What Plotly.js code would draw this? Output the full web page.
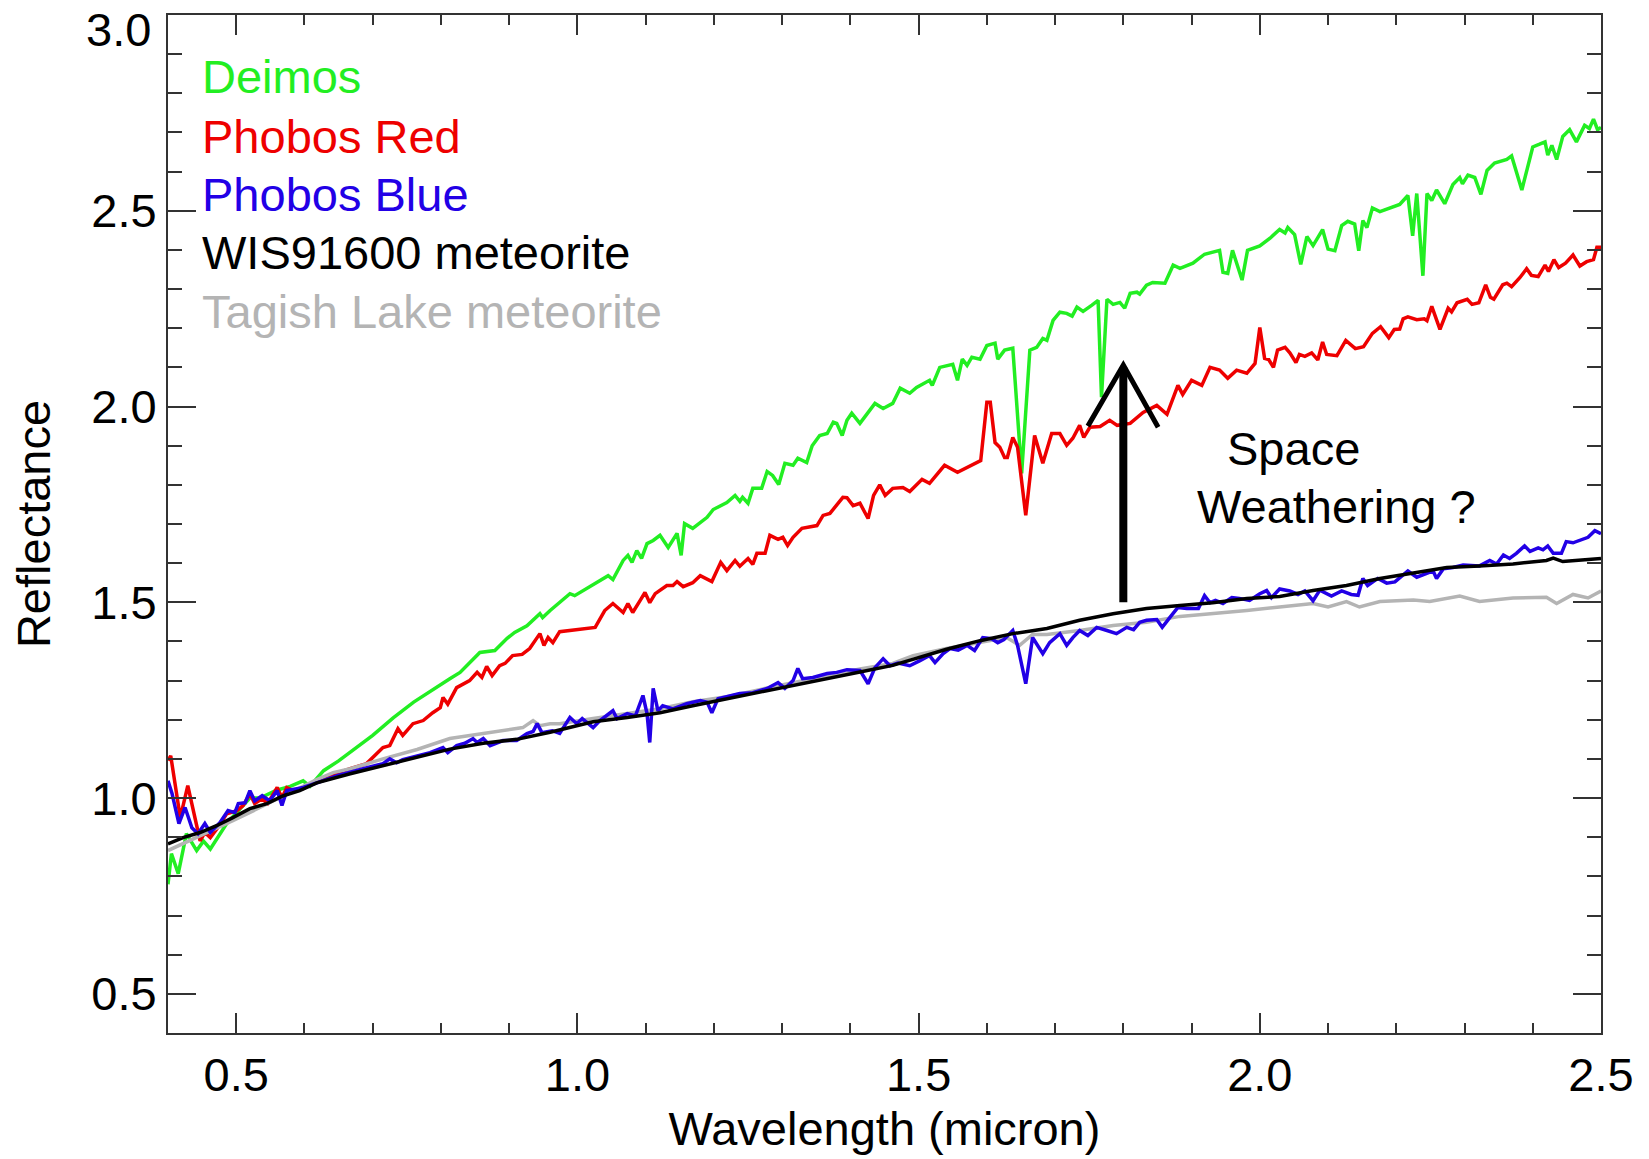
<!DOCTYPE html>
<html>
<head>
<meta charset="utf-8">
<script src="https://cdn.plot.ly/plotly-3.0.1.min.js"></script>
<style>
  html, body { margin: 0; padding: 0; background: #ffffff; }
  #chart { width: 1649px; height: 1159px; }
</style>
</head>
<body>
<div id="chart"></div>
<script>
// ---------------- data (wavelength in micron, reflectance) ----------------
const seriesNames = ["Deimos", "Phobos Red", "Phobos Blue", "WIS91600 meteorite", "Tagish Lake meteorite"];

const deimosX = [0.400,0.405,0.415,0.427,0.442,0.452,0.462,0.486,0.520,0.535,0.559,0.579,0.598,0.608,0.628,0.650,0.700,0.730,0.760,0.790,0.813,0.828,0.857,0.879,0.897,0.908,0.926,0.945,0.949,0.960,0.989,0.996,1.045,1.052,1.067,1.074,1.080,1.087,1.094,1.102,1.111,1.121,1.133,1.146,1.152,1.157,1.169,1.190,1.199,1.219,1.231,1.238,1.242,1.250,1.257,1.270,1.278,1.286,1.295,1.304,1.316,1.323,1.336,1.344,1.355,1.366,1.375,1.380,1.388,1.395,1.402,1.414,1.436,1.448,1.462,1.473,1.487,1.497,1.516,1.520,1.531,1.550,1.557,1.564,1.571,1.578,1.590,1.600,1.612,1.616,1.626,1.638,1.651,1.663,1.673,1.682,1.688,1.697,1.707,1.717,1.725,1.732,1.741,1.754,1.763,1.768,1.776,1.785,1.795,1.802,1.810,1.820,1.824,1.834,1.843,1.861,1.873,1.883,1.902,1.919,1.931,1.941,1.946,1.953,1.960,1.974,1.982,2.000,2.015,2.029,2.037,2.041,2.051,2.060,2.069,2.078,2.092,2.100,2.110,2.120,2.129,2.139,2.145,2.151,2.157,2.165,2.176,2.188,2.205,2.217,2.224,2.230,2.239,2.245,2.252,2.259,2.271,2.283,2.293,2.297,2.305,2.315,2.324,2.333,2.344,2.362,2.369,2.384,2.400,2.410,2.418,2.422,2.428,2.435,2.444,2.454,2.464,2.476,2.483,2.489,2.495,2.500];
const deimosY = [0.780,0.858,0.807,0.909,0.866,0.890,0.870,0.935,1.000,1.000,1.020,1.030,1.044,1.030,1.070,1.095,1.160,1.205,1.245,1.280,1.305,1.321,1.372,1.377,1.408,1.423,1.440,1.471,1.461,1.479,1.522,1.517,1.568,1.558,1.607,1.620,1.602,1.632,1.612,1.650,1.658,1.671,1.640,1.676,1.620,1.701,1.689,1.717,1.737,1.755,1.773,1.758,1.768,1.753,1.791,1.791,1.834,1.824,1.801,1.855,1.850,1.868,1.857,1.900,1.926,1.931,1.960,1.957,1.926,1.965,1.983,1.957,2.008,1.995,2.008,2.047,2.034,2.049,2.067,2.054,2.100,2.108,2.067,2.121,2.105,2.126,2.121,2.156,2.162,2.121,2.144,2.149,1.829,2.144,2.151,2.174,2.169,2.220,2.241,2.238,2.231,2.254,2.243,2.259,2.271,2.024,2.274,2.261,2.266,2.251,2.289,2.292,2.287,2.310,2.317,2.315,2.361,2.353,2.366,2.389,2.394,2.399,2.343,2.340,2.399,2.323,2.399,2.410,2.430,2.452,2.443,2.457,2.439,2.363,2.434,2.411,2.452,2.402,2.398,2.462,2.473,2.466,2.398,2.475,2.457,2.507,2.498,2.505,2.516,2.539,2.436,2.544,2.334,2.544,2.526,2.553,2.518,2.567,2.585,2.569,2.591,2.585,2.542,2.603,2.622,2.631,2.640,2.553,2.663,2.670,2.676,2.642,2.667,2.631,2.690,2.707,2.676,2.718,2.710,2.734,2.707,2.713];

const phobosRedX = [0.400,0.404,0.418,0.429,0.447,0.454,0.462,0.472,0.486,0.501,0.510,0.520,0.527,0.538,0.546,0.560,0.567,0.574,0.583,0.598,0.618,0.637,0.667,0.691,0.715,0.725,0.737,0.744,0.759,0.774,0.788,0.799,0.803,0.810,0.823,0.842,0.853,0.860,0.867,0.875,0.886,0.894,0.905,0.919,0.930,0.945,0.951,0.957,0.964,0.974,1.026,1.040,1.052,1.067,1.074,1.081,1.092,1.099,1.106,1.114,1.131,1.140,1.146,1.155,1.169,1.180,1.197,1.210,1.219,1.231,1.238,1.250,1.257,1.263,1.275,1.282,1.294,1.301,1.308,1.316,1.329,1.351,1.360,1.370,1.389,1.395,1.404,1.414,1.426,1.434,1.443,1.451,1.462,1.477,1.487,1.505,1.516,1.538,1.557,1.571,1.585,1.591,1.600,1.605,1.612,1.619,1.626,1.630,1.638,1.645,1.657,1.670,1.682,1.695,1.707,1.717,1.726,1.736,1.742,1.751,1.766,1.780,1.791,1.810,1.829,1.849,1.864,1.880,1.887,1.900,1.915,1.927,1.941,1.953,1.966,1.981,1.993,2.000,2.007,2.013,2.020,2.026,2.037,2.044,2.053,2.058,2.066,2.076,2.085,2.092,2.098,2.113,2.126,2.140,2.152,2.165,2.177,2.189,2.197,2.205,2.210,2.217,2.230,2.241,2.245,2.252,2.264,2.276,2.281,2.289,2.304,2.311,2.321,2.331,2.338,2.343,2.356,2.362,2.369,2.381,2.391,2.398,2.408,2.418,2.423,2.431,2.438,2.448,2.459,2.469,2.479,2.489,2.494,2.500];
const phobosRedY = [1.096,1.108,0.950,1.032,0.891,0.912,0.899,0.922,0.960,0.968,0.981,1.011,0.986,0.998,0.986,1.027,1.001,1.027,1.019,1.024,1.044,1.057,1.075,1.088,1.129,1.134,1.177,1.160,1.190,1.198,1.218,1.231,1.257,1.240,1.282,1.300,1.321,1.308,1.336,1.313,1.338,1.344,1.364,1.367,1.382,1.420,1.390,1.410,1.397,1.425,1.436,1.479,1.497,1.474,1.497,1.474,1.505,1.525,1.499,1.522,1.543,1.543,1.553,1.540,1.550,1.568,1.553,1.602,1.581,1.607,1.592,1.612,1.597,1.625,1.625,1.671,1.661,1.666,1.645,1.666,1.689,1.696,1.722,1.727,1.768,1.767,1.747,1.753,1.714,1.773,1.800,1.773,1.791,1.793,1.783,1.814,1.804,1.850,1.832,1.845,1.857,1.862,2.011,2.011,1.908,1.896,1.870,1.870,1.921,1.896,1.722,1.926,1.855,1.931,1.931,1.901,1.919,1.952,1.921,1.947,1.949,1.965,1.952,1.957,1.985,2.003,1.980,2.054,2.031,2.067,2.054,2.100,2.093,2.072,2.093,2.085,2.110,2.202,2.123,2.120,2.100,2.144,2.151,2.137,2.112,2.133,2.128,2.137,2.119,2.165,2.133,2.130,2.169,2.148,2.153,2.187,2.204,2.176,2.197,2.198,2.224,2.229,2.222,2.224,2.219,2.256,2.197,2.251,2.242,2.265,2.274,2.261,2.265,2.311,2.279,2.274,2.311,2.315,2.306,2.329,2.352,2.335,2.332,2.361,2.345,2.375,2.355,2.366,2.387,2.359,2.370,2.375,2.407,2.407];

const phobosBlueX = [0.400,0.406,0.416,0.425,0.435,0.444,0.454,0.462,0.476,0.488,0.498,0.503,0.513,0.520,0.527,0.538,0.549,0.560,0.567,0.574,0.589,0.598,0.618,0.648,0.686,0.715,0.725,0.735,0.744,0.765,0.784,0.803,0.810,0.823,0.835,0.847,0.853,0.862,0.872,0.891,0.911,0.926,0.935,0.941,0.948,0.963,0.974,0.989,0.999,1.007,1.023,1.033,1.052,1.058,1.073,1.085,1.096,1.102,1.106,1.111,1.118,1.125,1.140,1.160,1.180,1.190,1.197,1.206,1.223,1.238,1.257,1.278,1.294,1.304,1.316,1.323,1.330,1.345,1.366,1.380,1.395,1.414,1.426,1.436,1.448,1.458,1.470,1.487,1.502,1.516,1.524,1.536,1.546,1.558,1.571,1.582,1.594,1.607,1.616,1.625,1.638,1.645,1.657,1.667,1.682,1.692,1.707,1.717,1.726,1.736,1.748,1.761,1.776,1.790,1.805,1.815,1.824,1.834,1.849,1.857,1.868,1.880,1.893,1.910,1.919,1.927,1.935,1.946,1.959,1.970,1.985,2.000,2.010,2.017,2.029,2.044,2.056,2.066,2.078,2.088,2.105,2.120,2.134,2.144,2.151,2.158,2.173,2.186,2.198,2.217,2.230,2.254,2.259,2.269,2.283,2.298,2.322,2.337,2.347,2.357,2.366,2.376,2.388,2.396,2.408,2.415,2.422,2.430,2.442,2.449,2.459,2.474,2.481,2.491,2.500];
const phobosBlueY = [1.044,1.011,0.935,0.976,0.924,0.909,0.935,0.912,0.937,0.968,0.963,0.986,0.988,1.019,0.993,1.006,0.993,1.019,0.981,1.019,1.024,1.027,1.039,1.057,1.075,1.088,1.100,1.090,1.098,1.108,1.116,1.129,1.116,1.134,1.140,1.152,1.142,1.152,1.134,1.147,1.147,1.165,1.170,1.190,1.167,1.172,1.165,1.206,1.190,1.203,1.180,1.198,1.223,1.203,1.216,1.210,1.262,1.216,1.142,1.280,1.223,1.236,1.228,1.241,1.249,1.245,1.218,1.254,1.262,1.267,1.269,1.280,1.295,1.280,1.300,1.331,1.305,1.308,1.318,1.321,1.328,1.326,1.292,1.333,1.356,1.338,1.345,1.338,1.351,1.364,1.346,1.369,1.382,1.378,1.390,1.377,1.410,1.407,1.397,1.405,1.428,1.390,1.292,1.410,1.369,1.397,1.420,1.390,1.410,1.428,1.415,1.436,1.428,1.420,1.436,1.430,1.449,1.454,1.456,1.436,1.461,1.487,1.484,1.484,1.517,1.499,1.505,1.497,1.512,1.510,1.505,1.522,1.530,1.512,1.534,1.529,1.520,1.529,1.504,1.531,1.516,1.529,1.520,1.518,1.561,1.543,1.561,1.549,1.552,1.580,1.564,1.580,1.561,1.586,1.589,1.595,1.593,1.607,1.598,1.621,1.612,1.625,1.644,1.630,1.639,1.634,1.644,1.625,1.625,1.655,1.652,1.661,1.666,1.683,1.675];

const wisX = [0.400,0.422,0.447,0.472,0.495,0.520,0.545,0.569,0.593,0.600,0.618,0.667,0.715,0.765,0.813,0.862,0.911,0.960,1.023,1.073,1.121,1.169,1.219,1.267,1.316,1.366,1.414,1.462,1.492,1.541,1.590,1.638,1.688,1.736,1.785,1.834,1.883,1.931,1.981,2.029,2.078,2.127,2.176,2.225,2.274,2.322,2.371,2.420,2.430,2.444,2.469,2.500];
const wisY = [0.883,0.899,0.912,0.930,0.950,0.973,0.986,1.006,1.019,1.025,1.039,1.062,1.083,1.103,1.125,1.140,1.150,1.168,1.195,1.206,1.218,1.236,1.254,1.270,1.288,1.305,1.322,1.339,1.354,1.380,1.402,1.420,1.433,1.454,1.471,1.484,1.492,1.499,1.510,1.515,1.530,1.543,1.561,1.575,1.589,1.593,1.598,1.607,1.613,1.604,1.607,1.612];

const tagishX = [0.400,0.422,0.447,0.472,0.495,0.520,0.545,0.569,0.593,0.618,0.642,0.667,0.715,0.765,0.813,0.862,0.901,0.920,0.935,0.945,0.960,0.974,1.023,1.073,1.121,1.169,1.219,1.267,1.316,1.366,1.414,1.462,1.492,1.541,1.590,1.629,1.648,1.667,1.688,1.736,1.785,1.834,1.883,1.931,1.981,2.029,2.078,2.100,2.127,2.146,2.176,2.225,2.249,2.293,2.322,2.371,2.420,2.435,2.459,2.481,2.500];
const tagishY = [0.866,0.883,0.904,0.924,0.942,0.963,0.986,1.006,1.024,1.047,1.065,1.075,1.100,1.124,1.152,1.165,1.175,1.180,1.198,1.185,1.190,1.190,1.203,1.216,1.228,1.246,1.259,1.277,1.295,1.313,1.330,1.344,1.364,1.382,1.397,1.410,1.390,1.418,1.418,1.428,1.441,1.449,1.464,1.471,1.479,1.488,1.497,1.488,1.502,1.488,1.502,1.506,1.502,1.516,1.502,1.511,1.513,1.497,1.520,1.511,1.529];

const xTicks = [0.5, 1.0, 1.5, 2.0, 2.5];
const yTicks = [0.5, 1.0, 1.5, 2.0, 2.5, 3.0];
const annotationLines = ["Space", "Weathering ?"];

// ---------------- styling ----------------
const FONT = "Liberation Sans, Arial, Helvetica, sans-serif";
const colors = ["#22ee22", "#ee0000", "#2200e6", "#000000", "#b4b4b4"];
const axisColor = "#333333";

function trace(x, y, i, w) {
  return { x: x, y: y, type: "scatter", mode: "lines", name: seriesNames[i],
           line: { color: colors[i], width: w }, showlegend: false, hoverinfo: "x+y+name" };
}

const data = [
  trace(deimosX, deimosY, 0, 3.5),
  trace(phobosRedX, phobosRedY, 1, 3.5),
  trace(tagishX, tagishY, 4, 3.5),
  trace(phobosBlueX, phobosBlueY, 2, 3.5),
  trace(wisX, wisY, 3, 3.5)
];

// legend as coloured text (paper coordinates)
const legendYs = [0.9398, 0.8808, 0.8238, 0.7669, 0.7089];
const annotations = seriesNames.map((n, i) => ({
  text: n, xref: "paper", yref: "paper", x: 0.0223, y: legendYs[i],
  xanchor: "left", yanchor: "middle", showarrow: false,
  font: { family: FONT, size: 47, color: colors[i] }
}));
annotations.push({ text: annotationLines[0], xref: "x", yref: "y", x: 2.05, y: 1.892,
  xanchor: "center", yanchor: "middle", showarrow: false, font: { family: FONT, size: 47, color: "#000" } });
annotations.push({ text: annotationLines[1], xref: "x", yref: "y", x: 2.112, y: 1.745,
  xanchor: "center", yanchor: "middle", showarrow: false, font: { family: FONT, size: 47, color: "#000" } });
// top y tick label, nudged down inside the page as in the original
const topTick = yTicks[yTicks.length - 1];
annotations.push({ text: topTick.toFixed(1), xref: "paper", yref: "paper", x: -0.0105, y: 0.9862,
  xanchor: "right", yanchor: "middle", showarrow: false, font: { family: FONT, size: 47, color: "#000" } });

const shapes = [
  { type: "line", xref: "x", yref: "y", x0: 1.8, y0: 1.50, x1: 1.8, y1: 2.10, line: { color: "#000", width: 8 } },
  { type: "path", xref: "x", yref: "y", path: "M 1.748 1.950 L 1.800 2.106 L 1.851 1.947", line: { color: "#000", width: 5 } }
];

const layout = {
  width: 1649, height: 1159,
  margin: { l: 168, r: 48, t: 15, b: 126, pad: 0 },
  paper_bgcolor: "#ffffff", plot_bgcolor: "#ffffff",
  font: { family: FONT, size: 47, color: "#000" },
  showlegend: false,
  xaxis: {
    range: [0.4, 2.5], tickvals: xTicks, ticktext: xTicks.map(v => v.toFixed(1)),
    ticks: "inside", ticklen: 20, tickwidth: 2, tickcolor: axisColor, ticklabeloverflow: "allow",
    minor: { dtick: 0.1, tick0: 0.4, ticks: "inside", ticklen: 10, tickwidth: 2, tickcolor: axisColor, showgrid: false },
    showline: true, linecolor: axisColor, linewidth: 2, mirror: "allticks",
    showgrid: false, zeroline: false,
    tickfont: { family: FONT, size: 47, color: "#000" },
    title: { text: "Wavelength (micron)", font: { family: FONT, size: 47, color: "#000" }, standoff: 12 },
    automargin: false
  },
  yaxis: {
    range: [0.4, 3.0], tickvals: yTicks,
    ticktext: yTicks.map(v => v === topTick ? "" : v.toFixed(1)),
    ticks: "inside", ticklen: 28, tickwidth: 2, tickcolor: axisColor, ticklabeloverflow: "allow",
    minor: { dtick: 0.1, tick0: 0.4, ticks: "inside", ticklen: 14, tickwidth: 2, tickcolor: axisColor, showgrid: false },
    showline: true, linecolor: axisColor, linewidth: 2, mirror: "allticks",
    showgrid: false, zeroline: false,
    tickfont: { family: FONT, size: 47, color: "#000" },
    title: { text: "Reflectance", font: { family: FONT, size: 47, color: "#000" }, standoff: 26 },
    automargin: false
  },
  annotations: annotations,
  shapes: shapes
};

Plotly.newPlot("chart", data, layout, { displayModeBar: false, staticPlot: true });
</script>
</body>
</html>
